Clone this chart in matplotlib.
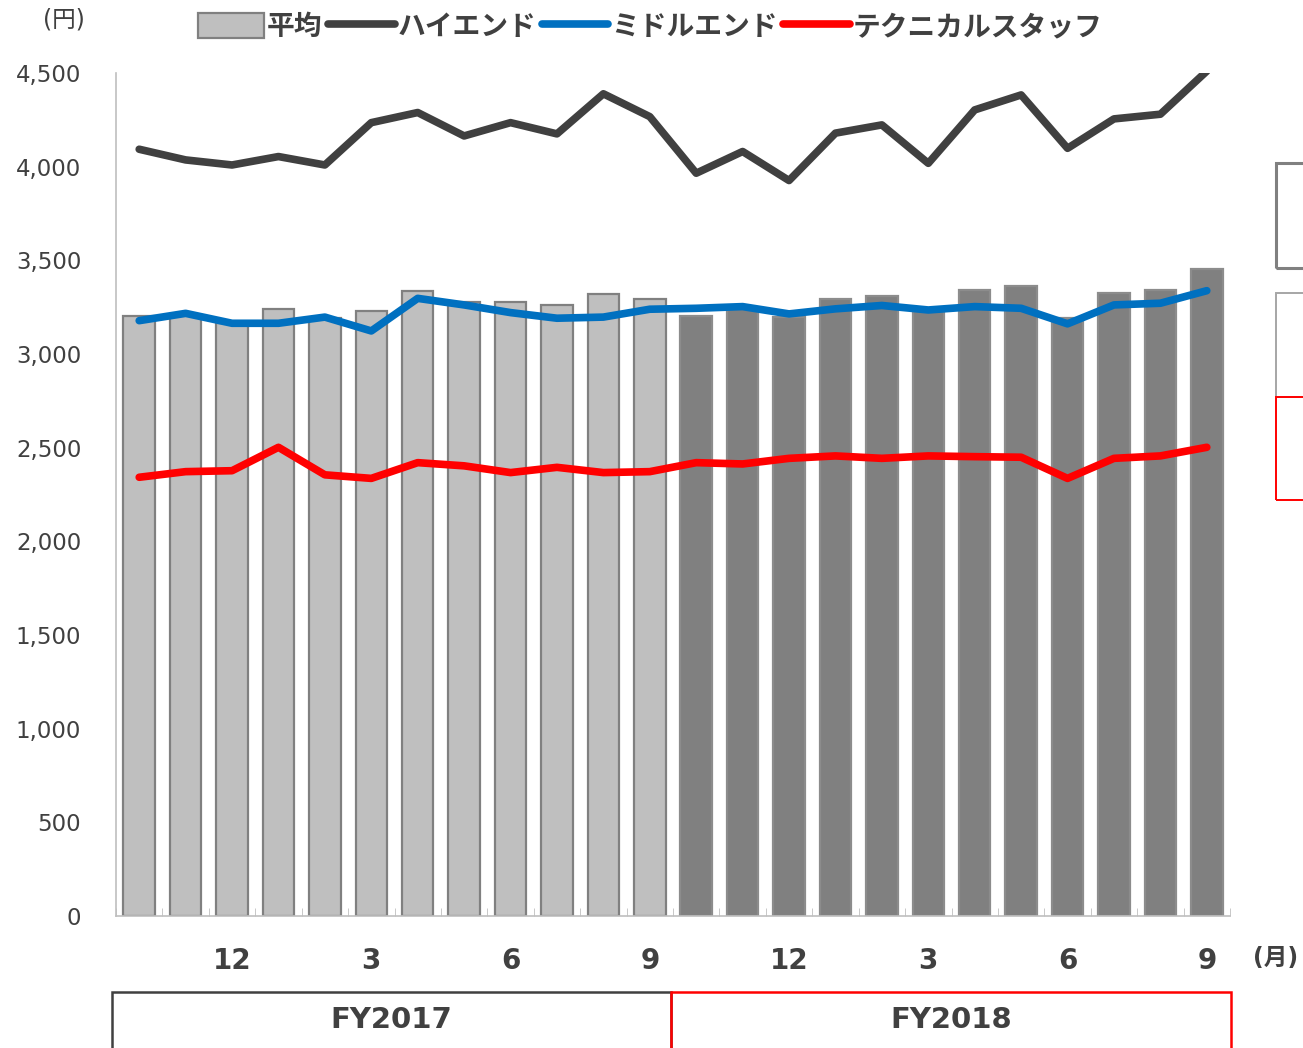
import numpy as np
import matplotlib
matplotlib.use("Agg")
import matplotlib.pyplot as plt
from matplotlib.patches import Rectangle, Patch
from matplotlib.lines import Line2D

plt.rcParams['font.family'] = ['DejaVu Sans', 'Noto Sans CJK JP']

# 2016/10 .. 2018/9
months = [10, 11, 12, 1, 2, 3, 4, 5, 6, 7, 8, 9,
          10, 11, 12, 1, 2, 3, 4, 5, 6, 7, 8, 9]
avg = [3205, 3210, 3165, 3240, 3190, 3232, 3337, 3275, 3275, 3259, 3322, 3294,
       3205, 3240, 3196, 3294, 3312, 3232, 3340, 3363, 3190, 3324, 3342, 3452]
high = [4093, 4036, 4009, 4054, 4009, 4235, 4289, 4164, 4235, 4175, 4389, 4267,
        3965, 4081, 3926, 4179, 4223, 4018, 4303, 4383, 4098, 4255, 4280, 4510]
middle = [3178, 3217, 3164, 3164, 3197, 3123, 3297, 3262, 3221, 3191, 3197, 3239,
          3244, 3253, 3214, 3241, 3259, 3235, 3253, 3244, 3161, 3262, 3271, 3338]
tech = [2342, 2372, 2377, 2502, 2355, 2336, 2420, 2403, 2367, 2395, 2367, 2372,
        2420, 2413, 2443, 2456, 2443, 2456, 2452, 2449, 2336, 2443, 2456, 2502]
label_months = [12, 3, 6, 9]

fig = plt.figure(figsize=(13.03, 10.48), dpi=100)
ax = fig.add_axes([116/1303, 1-916/1048, (1230-116)/1303, (916-73)/1048])

x = np.arange(len(months))
face = ['#BFBFBF'] * 12 + ['#808080'] * 12
edge = ['#808080'] * 12 + ['#8C8C8C'] * 12
ax.bar(x, avg, width=0.68, color=face, edgecolor=edge, linewidth=1.6, zorder=2)

lw = 5.5
ax.plot(x, high, color='#404040', lw=lw, solid_capstyle='round', zorder=3)
ax.plot(x, tech, color='#FF0000', lw=lw, solid_capstyle='round', zorder=3)
ax.plot(x, middle, color='#0070C0', lw=lw, solid_capstyle='round', zorder=4)

ax.set_xlim(-0.5, len(months) - 0.5)
ax.set_ylim(0, 4500)
ax.set_yticks(np.arange(0, 4501, 500))
ax.set_yticklabels([f'{v:,}' for v in range(0, 4501, 500)])
ax.tick_params(axis='y', length=0, pad=25, labelsize=16.5, labelcolor='#404040')

pos = [i for i, m in enumerate(months) if m in label_months]
ax.set_xticks(pos)
ax.set_xticklabels([str(months[i]) for i in pos], fontweight='bold')
ax.tick_params(axis='x', which='major', length=0, pad=22, labelsize=20, labelcolor='#404040')
ax.set_xticks(np.arange(-0.5, len(months), 1), minor=True)
ax.tick_params(axis='x', which='minor', direction='in', length=6, color='#BFBFBF')

for s in ['top', 'right']:
    ax.spines[s].set_visible(False)
ax.spines['left'].set_color('#BFBFBF')
ax.spines['bottom'].set_color('#BFBFBF')
ax.spines['left'].set_linewidth(1.2)
ax.spines['bottom'].set_linewidth(1.2)

fig.text(64/1303, 1-20/1048, '(円)', fontsize=17, color='#404040', ha='center', va='center')
fig.text(1276/1303, 1-958/1048, '(月)', fontsize=17, fontweight='bold', color='#404040',
         ha='center', va='center')

handles = [Patch(facecolor='#BFBFBF', edgecolor='#808080', linewidth=1.6),
           Line2D([], [], color='#404040', lw=lw, solid_capstyle='round'),
           Line2D([], [], color='#0070C0', lw=lw, solid_capstyle='round'),
           Line2D([], [], color='#FF0000', lw=lw, solid_capstyle='round')]
labels = ['平均', 'ハイエンド', 'ミドルエンド', 'テクニカルスタッフ']
leg = fig.legend(handles, labels, loc='center', bbox_to_anchor=(650/1303, 1-27/1048),
                 ncol=4, frameon=False, handlelength=2.4, handleheight=1.0,
                 handletextpad=0.1, columnspacing=0.2,
                 prop={'family': 'Noto Sans CJK JP', 'weight': 'bold', 'size': 20})
for t in leg.get_texts():
    t.set_color('#404040')

# fiscal year boxes
fig.patches.append(Rectangle((112/1303, -0.05), (671-112)/1303, 0.05+1-992/1048,
                             transform=fig.transFigure, fill=False, edgecolor='#404040', lw=1.8))
fig.patches.append(Rectangle((671/1303, -0.05), (1231-671)/1303, 0.05+1-992/1048,
                             transform=fig.transFigure, fill=False, edgecolor='#FF0000', lw=1.8))
fig.text(391/1303, 1-1020/1048, 'FY2017', fontsize=21, fontweight='bold', color='#404040',
         ha='center', va='center')
fig.text(951/1303, 1-1020/1048, 'FY2018', fontsize=21, fontweight='bold', color='#404040',
         ha='center', va='center')

# boxes cut off at right edge
fig.patches.append(Rectangle((1276/1303, 1-268/1048), 0.1, (268-163)/1048,
                             transform=fig.transFigure, fill=False, edgecolor='#808080', lw=2.2))
fig.patches.append(Rectangle((1276/1303, 1-397/1048), 0.1, (397-293)/1048,
                             transform=fig.transFigure, fill=False, edgecolor='#A6A6A6', lw=1.4))
fig.patches.append(Rectangle((1276/1303, 1-500/1048), 0.1, (500-397)/1048,
                             transform=fig.transFigure, fill=False, edgecolor='#FF0000', lw=1.4))

fig.savefig('out.png', dpi=100)
